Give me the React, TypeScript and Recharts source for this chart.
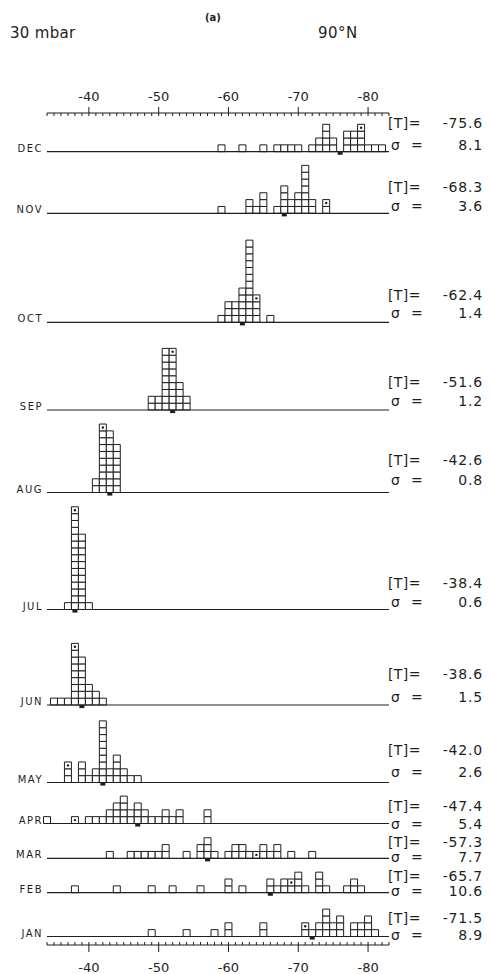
import React from 'react';
import {
  ComposedChart,
  XAxis,
  YAxis,
  ReferenceLine,
  ReferenceArea,
  Scatter,
} from 'recharts';

// ---- data -------------------------------------------------------------
// Months, drawn from top to bottom
const MONTHS = ['DEC', 'NOV', 'OCT', 'SEP', 'AUG', 'JUL', 'JUN', 'MAY', 'APR', 'MAR', 'FEB', 'JAN'];
// Monthly mean temperature [T] (°C) and standard deviation σ
const MEAN_T = [-75.6, -68.3, -62.4, -51.6, -42.6, -38.4, -38.6, -42.0, -47.4, -57.3, -65.7, -71.5];
const SIGMA = [8.1, 3.6, 1.4, 1.2, 0.8, 0.6, 1.5, 2.6, 5.4, 7.7, 10.6, 8.9];

// Histograms: [temperature bin (°C), number of years]
const DEC_HIST: [number, number][] = [
  [-59, 1], [-62, 1], [-65, 1], [-67, 1], [-68, 1], [-69, 1], [-70, 1], [-72, 1], [-73, 2],
  [-74, 4], [-75, 2], [-77, 3], [-78, 3], [-79, 4], [-80, 1], [-81, 1], [-82, 1],
];
const NOV_HIST: [number, number][] = [
  [-59, 1], [-63, 2], [-64, 1], [-65, 3], [-67, 1], [-68, 4], [-69, 2], [-70, 3], [-71, 7],
  [-72, 2], [-74, 2],
];
const OCT_HIST: [number, number][] = [
  [-59, 1], [-60, 3], [-61, 3], [-62, 5], [-63, 12], [-64, 4], [-66, 1],
];
const SEP_HIST: [number, number][] = [
  [-49, 2], [-50, 2], [-51, 9], [-52, 9], [-53, 4], [-54, 2],
];
const AUG_HIST: [number, number][] = [
  [-41, 2], [-42, 10], [-43, 9], [-44, 7],
];
const JUL_HIST: [number, number][] = [
  [-37, 1], [-38, 15], [-39, 11], [-40, 1],
];
const JUN_HIST: [number, number][] = [
  [-35, 1], [-36, 1], [-37, 1], [-38, 9], [-39, 7], [-40, 3], [-41, 2], [-42, 1],
];
const MAY_HIST: [number, number][] = [
  [-37, 3], [-39, 3], [-40, 1], [-41, 2], [-42, 9], [-43, 2], [-44, 4], [-45, 2], [-46, 1], [-47, 1],
];
const APR_HIST: [number, number][] = [
  [-34, 1], [-38, 1], [-40, 1], [-41, 1], [-42, 1], [-43, 2], [-44, 3], [-45, 4], [-46, 2],
  [-47, 3], [-48, 2], [-49, 1], [-50, 1], [-51, 2], [-52, 1], [-53, 2], [-57, 2],
];
const MAR_HIST: [number, number][] = [
  [-43, 1], [-46, 1], [-47, 1], [-48, 1], [-49, 1], [-50, 1], [-51, 2], [-54, 1], [-56, 2],
  [-57, 3], [-58, 1], [-60, 1], [-61, 2], [-62, 2], [-63, 1], [-64, 1], [-65, 2], [-66, 1],
  [-67, 2], [-69, 1], [-72, 1],
];
const FEB_HIST: [number, number][] = [
  [-38, 1], [-44, 1], [-49, 1], [-52, 1], [-56, 1], [-60, 2], [-62, 1], [-66, 2], [-67, 1],
  [-68, 2], [-69, 2], [-70, 3], [-71, 1], [-73, 3], [-74, 1], [-77, 1], [-78, 2], [-79, 1],
];
const JAN_HIST: [number, number][] = [
  [-49, 1], [-54, 1], [-58, 1], [-60, 2], [-65, 2], [-71, 2], [-72, 1], [-73, 2], [-74, 4],
  [-75, 2], [-76, 3], [-78, 2], [-79, 2], [-80, 3], [-81, 1],
];
const HISTOGRAMS = [
  DEC_HIST, NOV_HIST, OCT_HIST, SEP_HIST, AUG_HIST, JUL_HIST,
  JUN_HIST, MAY_HIST, APR_HIST, MAR_HIST, FEB_HIST, JAN_HIST,
];
// Bin whose top square carries a dot
const MARKED_BIN = [-79, -74, -64, -52, -42, -38, -38, -37, -38, -64, -69, -71];

// Axis ticks
const LABELLED_TICKS = [-40, -50, -60, -70, -80];
const X_DOMAIN: [number, number] = [-83, -34];

// ---- layout -----------------------------------------------------------
const WIDTH = 491;
const HEIGHT = 974;
const PLOT_LEFT = 47;
const PLOT_RIGHT = 389;
const PLOT_TOP = 113;
const PLOT_BOTTOM = 945;
const ROWS = 121.5; // vertical span of the plot, in squares
const ROW_PX = (PLOT_BOTTOM - PLOT_TOP) / ROWS;
// Page y of each month's base line
const BASE_Y = [151.7, 213.3, 322.3, 410, 492.5, 609.5, 705, 782.5, 823.5, 858.3, 892.7, 936.5];
// Vertical offsets of the [T] and σ lines from the base line
const T_DY = [-28.4, -26.6, -27.3, -28.3, -32.5, -26.8, -31, -32.3, -17.5, -16.6, -17, -18.2];
const S_DY = [-6.7, -7.3, -9, -9.3, -12.5, -7.8, -8, -10.6, 0, -1.0, -1.4, -1.5];

const FONT = '"DejaVu Sans", "Liberation Sans", sans-serif';
const INK = '#1e1e1e';

const baseRow = (i: number) => (PLOT_BOTTOM - BASE_Y[i]) / ROW_PX;

const TICKS: number[] = [];
for (let v = X_DOMAIN[0]; v <= X_DOMAIN[1]; v++) TICKS.push(v);

const countAt = (hist: [number, number][], t: number) => {
  const hit = hist.find((d) => d[0] === t);
  return hit ? hit[1] : 0;
};

const dotData = MARKED_BIN.map((t, i) => ({
  x: t,
  y: baseRow(i) + countAt(HISTOGRAMS[i], t) - 0.5,
}));

const TopTick = (props: any) => {
  const { x, y, payload } = props;
  const v = payload.value as number;
  const major = LABELLED_TICKS.includes(v);
  return (
    <g>
      <line x1={x} x2={x} y1={major ? y - 6 : y} y2={y + 3} stroke={INK} strokeWidth={1} />
      {major && (
        <text x={x} y={y - 12.5} textAnchor="middle" fontFamily={FONT} fontSize={13} fill={INK}>
          {String(v)}
        </text>
      )}
    </g>
  );
};

const BottomTick = (props: any) => {
  const { x, y, payload } = props;
  const v = payload.value as number;
  const major = LABELLED_TICKS.includes(v);
  return (
    <g>
      <line x1={x} x2={x} y1={y - 3} y2={major ? y + 7 : y} stroke={INK} strokeWidth={1} />
      {major && (
        <text x={x} y={y + 26.5} textAnchor="middle" fontFamily={FONT} fontSize={13} fill={INK}>
          {String(v)}
        </text>
      )}
    </g>
  );
};

const monthLabel = (i: number) => (props: any) => {
  const vb = props.viewBox || {};
  const x = vb.x ?? PLOT_LEFT;
  const y = vb.y ?? BASE_Y[i];
  const w = vb.width ?? PLOT_RIGHT - PLOT_LEFT;
  const right = x + w;
  return (
    <g fontFamily={FONT} fill={INK}>
      <text x={x - 4} y={y} textAnchor="end" fontSize={10} letterSpacing={1.5}>
        {MONTHS[i]}
      </text>
      <text x={right - 1} y={y + T_DY[i] + 5} fontSize={14} letterSpacing={0.4}>
        [T]=
      </text>
      <text x={right + 94} y={y + T_DY[i] + 5} fontSize={14} textAnchor="end" letterSpacing={0.8}>
        {MEAN_T[i].toFixed(1)}
      </text>
      <text x={right + 2} y={y + S_DY[i] + 5} fontSize={14}>
        σ
      </text>
      <text x={right + 22} y={y + S_DY[i] + 5} fontSize={14}>
        =
      </text>
      <text x={right + 94} y={y + S_DY[i] + 5} fontSize={14} textAnchor="end" letterSpacing={0.8}>
        {SIGMA[i].toFixed(1)}
      </text>
    </g>
  );
};

const DotShape = (props: any) => (
  <circle cx={props.cx} cy={props.cy} r={1.2} fill={INK} />
);

export default function App() {
  const squares: React.ReactNode[] = [];
  HISTOGRAMS.forEach((hist, i) => {
    const b = baseRow(i);
    hist.forEach(([t, n]) => {
      for (let r = 0; r < n; r++) {
        squares.push(
          <ReferenceArea
            key={`sq-${i}-${t}-${r}`}
            xAxisId="bottom"
            x1={t - 0.5}
            x2={t + 0.5}
            y1={b + r}
            y2={b + r + 1}
            fill="#ffffff"
            fillOpacity={1}
            stroke={INK}
            strokeWidth={1}
            ifOverflow="visible"
          />,
        );
      }
    });
  });

  const meanMarks = MEAN_T.map((m, i) => {
    const bin = -Math.round(-m);
    const b = baseRow(i);
    return (
      <ReferenceArea
        key={`mean-${i}`}
        xAxisId="bottom"
        x1={bin - 0.36}
        x2={bin + 0.36}
        y1={b - 0.45}
        y2={b}
        fill={INK}
        fillOpacity={1}
        stroke="none"
        ifOverflow="visible"
      />
    );
  });

  const baseLines = MONTHS.map((mo, i) => (
    <ReferenceLine
      key={`base-${mo}`}
      xAxisId="bottom"
      y={baseRow(i)}
      stroke={INK}
      strokeWidth={1.2}
      ifOverflow="visible"
      label={monthLabel(i)}
    />
  ));

  return (
    <div style={{ position: 'absolute', left: 0, top: 0, width: WIDTH, height: HEIGHT, background: '#fff' }}>
      <ComposedChart
        width={WIDTH}
        height={HEIGHT}
        margin={{ top: 0, right: WIDTH - PLOT_RIGHT, bottom: 0, left: PLOT_LEFT }}
      >
        <XAxis
          xAxisId="top"
          orientation="top"
          type="number"
          dataKey="x"
          domain={X_DOMAIN}
          reversed
          allowDataOverflow
          ticks={TICKS}
          interval={0}
          height={PLOT_TOP}
          tickSize={0}
          tickMargin={0}
          tickLine={false}
          tick={<TopTick />}
          axisLine={{ stroke: INK, strokeWidth: 1.2 }}
        />
        <XAxis
          xAxisId="bottom"
          orientation="bottom"
          type="number"
          dataKey="x"
          domain={X_DOMAIN}
          reversed
          allowDataOverflow
          ticks={TICKS}
          interval={0}
          height={HEIGHT - PLOT_BOTTOM}
          tickSize={0}
          tickMargin={0}
          tickLine={false}
          tick={<BottomTick />}
          axisLine={{ stroke: INK, strokeWidth: 1.2 }}
        />
        <YAxis type="number" dataKey="y" domain={[0, ROWS]} hide allowDataOverflow />
        {baseLines}
        {squares}
        {meanMarks}
        <Scatter
          xAxisId="bottom"
          data={dotData}
          shape={<DotShape />}
          isAnimationActive={false}
        />
      </ComposedChart>
      <svg
        width={WIDTH}
        height={60}
        style={{ position: 'absolute', left: 0, top: 0, pointerEvents: 'none' }}
      >
        <text x={10} y={38} fontFamily={FONT} fontSize={15} fill={INK} letterSpacing={0.3}>
          30 mbar
        </text>
        <text x={213} y={21} fontFamily={FONT} fontSize={10} fontWeight="bold" fill={INK} textAnchor="middle">
          (a)
        </text>
        <text x={318} y={38} fontFamily={FONT} fontSize={15} fill={INK} letterSpacing={0.5}>
          90°N
        </text>
      </svg>
    </div>
  );
}
